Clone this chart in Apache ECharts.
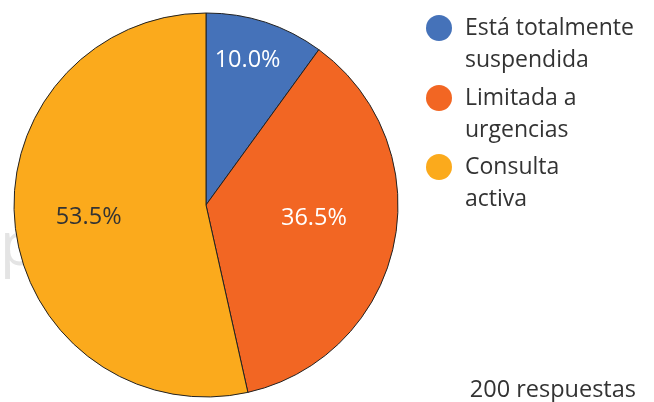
<!DOCTYPE html>
<html><head><meta charset="utf-8">
<script src="https://cdn.jsdelivr.net/npm/echarts@6/dist/echarts.min.js"></script>
<style>html,body{margin:0;padding:0;background:#fff}#c{width:654px;height:402px}</style>
</head><body><div id="c"></div>
<script>
const categories = ['Está totalmente\nsuspendida', 'Limitada a\nurgencias', 'Consulta\nactiva'];
const values = [10.0, 36.5, 53.5];
const colors = ['#4572b9', '#f26623', '#fbaa1c'];
const labelColors = ['#ffffff', '#ffffff', '#333333'];
const labelOffsets = [[11, -51], [11, -7], [-19, 1]];
const legendCenters = [28, 98, 167];
const FONT = 'Open Sans';

const chart = echarts.init(document.getElementById('c'), null, {renderer: 'canvas'});
const option = {
  animation: false,
  backgroundColor: '#ffffff',
  color: colors,
  legend: categories.map((name, i) => ({
    data: [name],
    left: 426,
    top: legendCenters[i] - 48,
    padding: 0,
    icon: 'circle',
    itemWidth: 42,
    itemHeight: 26,
    itemGap: 0,
    selectedMode: false,
    itemStyle: {borderWidth: 0},
    formatter: n => '\n' + n,
    textStyle: {fontFamily: FONT, fontSize: 23, color: '#333', lineHeight: 32}
  })),
  graphic: [
    {type: 'text', left: 0, top: 218, z: -10, style: {text: 'p', fontFamily: FONT, fontSize: 60, fill: '#e4e4e4'}},
    {type: 'text', right: 18, top: 378, style: {text: '200 respuestas', fontFamily: FONT, fontSize: 23.5, fill: '#333'}}
  ],
  series: [{
    type: 'pie',
    center: [206, 205],
    radius: [0, 192],
    startAngle: 90,
    clockwise: true,
    silent: true,
    itemStyle: {borderColor: '#222', borderWidth: 1},
    label: {show: true, position: 'inside', fontFamily: FONT, fontSize: 23.5,
      formatter: p => p.value.toFixed(1) + '%'},
    labelLine: {show: false},
    data: categories.map((name, i) => ({
      name, value: values[i],
      label: {color: labelColors[i], offset: labelOffsets[i]}
    }))
  }]
};
chart.setOption(option);
</script></body></html>
